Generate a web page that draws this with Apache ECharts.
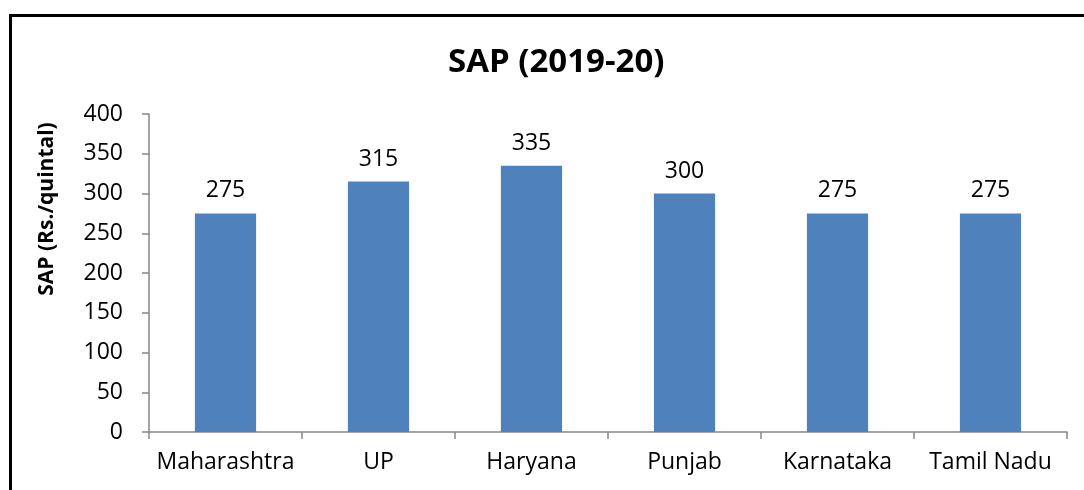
<!DOCTYPE html>
<html><head><meta charset="utf-8">
<script src="https://cdn.jsdelivr.net/npm/echarts@6/dist/echarts.min.js"></script>
<style>html,body{margin:0;padding:0;background:#fff}#c{width:1084px;height:490px}</style>
</head><body><div id="c"></div>
<script>
const categories = ["Maharashtra", "UP", "Haryana", "Punjab", "Karnataka", "Tamil Nadu"];
const values = [275, 315, 335, 300, 275, 275];
const yTicks = { min: 0, max: 400, interval: 50 };
const titleText = "SAP (2019-20)";
const yAxisName = "SAP (Rs./quintal)";

const FONT = "Open Sans";
const chart = echarts.init(document.getElementById('c'));
chart.setOption({
  animation: false,
  graphic: [{
    type: 'rect', shape: { x: 10.5, y: 15.5, width: 1200, height: 600 },
    style: { fill: 'none', stroke: '#000', lineWidth: 3 }, silent: true
  }, {
    type: 'text', x: 47, y: 209, rotation: Math.PI / 2, silent: true,
    style: { text: yAxisName, font: 'bold 21px "Open Sans"', fill: '#000', align: 'center', verticalAlign: 'middle' }
  }],
  title: {
    text: titleText, left: 443, top: 41,
    textStyle: { fontFamily: FONT, fontSize: 33, fontWeight: 'bold', color: '#000' }
  },
  grid: { left: 149, right: 17, top: 114, bottom: 58 },
  xAxis: {
    type: 'category', data: categories,
    axisLine: { lineStyle: { color: '#868686', width: 1.5 } },
    axisTick: { show: true, length: 7, lineStyle: { color: '#868686', width: 1.5 } },
    axisLabel: { interval: 0, fontFamily: FONT, fontSize: 23, color: '#000', margin: 19 }
  },
  yAxis: {
    type: 'value', min: yTicks.min, max: yTicks.max, interval: yTicks.interval,
    axisLine: { show: true, lineStyle: { color: '#868686', width: 1.5 } },
    axisTick: { show: true, length: 7, lineStyle: { color: '#868686', width: 1.5 } },
    axisLabel: { fontFamily: FONT, fontSize: 23, color: '#000', margin: 26 },
    splitLine: { show: false }
  },
  series: [{
    type: 'bar', data: values, barWidth: '40%',
    itemStyle: { color: '#4F81BD' },
    label: { show: true, position: 'top', distance: 11, fontFamily: FONT, fontSize: 23, color: '#000' }
  }]
});
</script></body></html>
